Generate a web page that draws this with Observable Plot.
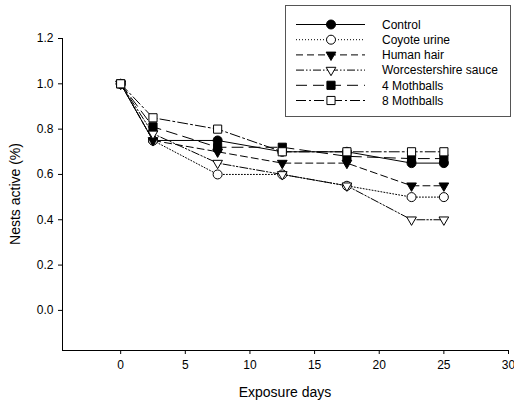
<!DOCTYPE html>
<html><head><meta charset="utf-8">
<script src="https://cdn.jsdelivr.net/npm/d3@7"></script>
<script src="https://cdn.jsdelivr.net/npm/@observablehq/plot@0.6"></script>
<style>body{margin:0;background:#fff;font-family:Arial,"Liberation Sans",sans-serif}</style>
</head><body><div id="chart"></div>
<script>
const days = [0, 2.5, 7.5, 12.5, 17.5, 22.5, 25];
const seriesNames = ["Control", "Coyote urine", "Human hair", "Worcestershire sauce", "4 Mothballs", "8 Mothballs"];
const control      = [1.0, 0.75, 0.75, 0.70, 0.70, 0.65, 0.65];
const coyoteUrine  = [1.0, 0.75, 0.60, 0.60, 0.55, 0.50, 0.50];
const humanHair    = [1.0, 0.75, 0.70, 0.65, 0.65, 0.55, 0.55];
const worcester    = [1.0, 0.78, 0.65, 0.60, 0.55, 0.40, 0.40];
const mothballs4   = [1.0, 0.81, 0.72, 0.72, 0.68, 0.67, 0.67];
const mothballs8   = [1.0, 0.85, 0.80, 0.70, 0.70, 0.70, 0.70];
const seriesValues = [control, coyoteUrine, humanHair, worcester, mothballs4, mothballs8];
const xTicks = [0, 5, 10, 15, 20, 25, 30];
const yTicks = [0.0, 0.2, 0.4, 0.6, 0.8, 1.0, 1.2];

const triDown = {draw(ctx, size) {
  const a = Math.sqrt(4 * size / Math.sqrt(3)), h = a * Math.sqrt(3) / 2;
  ctx.moveTo(0, 2 * h / 3); ctx.lineTo(-a / 2, -h / 3); ctx.lineTo(a / 2, -h / 3); ctx.closePath();
}};
const styles = [
  {dash: null, symbol: "circle", fill: "black", r: 4.5},
  {dash: "1,2", symbol: "circle", fill: "white", r: 4.5},
  {dash: "7,4", symbol: triDown, fill: "black", r: 3.6},
  {dash: "8,2,1.5,2,1.5,2", symbol: triDown, fill: "white", r: 3.6},
  {dash: "11,6", symbol: "square", fill: "black", r: 4.6},
  {dash: "10,3,2,3", symbol: "square", fill: "white", r: 4.6}
];

const rows = [];
seriesNames.forEach((name, i) => days.forEach((d, j) => rows.push({series: name, idx: i, day: d, value: seriesValues[i][j]})));

const marks = [
  Plot.ruleX([-4.5], {stroke: "black", strokeWidth: 1}),
  Plot.ruleY([-0.177], {stroke: "black", strokeWidth: 1}),
  Plot.axisX({ticks: xTicks, tickSize: 4, tickPadding: 6, fontSize: 12, label: null}),
  Plot.axisY({ticks: yTicks, tickSize: 4, tickPadding: 5, fontSize: 12, label: null, tickFormat: d3.format(".1f")})
];
seriesNames.forEach((name, i) => {
  const data = rows.filter(r => r.idx === i);
  const s = styles[i];
  marks.push(Plot.line(data, {x: "day", y: "value", stroke: "black", strokeWidth: 1, strokeDasharray: s.dash}));
});
seriesNames.forEach((name, i) => {
  const data = rows.filter(r => r.idx === i);
  const s = styles[i];
  marks.push(Plot.dot(data, {x: "day", y: "value", symbol: s.symbol, r: s.r, fill: s.fill, stroke: "black", strokeWidth: 1}));
});

const chart = Plot.plot({
  width: 514, height: 405,
  marginLeft: 62, marginRight: 6, marginTop: 38, marginBottom: 55,
  style: {fontFamily: "Arial, 'Liberation Sans', sans-serif", fontSize: "12px", color: "black", background: "white"},
  x: {domain: [-4.5, 30]},
  y: {domain: [-0.177, 1.2]},
  marks
});
document.getElementById("chart").appendChild(chart);

const svg = d3.select(chart);
svg.append("text").attr("x", 285).attr("y", 397).attr("text-anchor", "middle")
  .attr("font-size", 14).attr("fill", "black").text("Exposure days");
svg.append("text").attr("transform", "translate(20,194) rotate(-90)").attr("text-anchor", "middle")
  .attr("font-size", 14).attr("fill", "black").text("Nests active (%)");

// legend
const lg = svg.append("g");
lg.append("rect").attr("x", 285.5).attr("y", 5.5).attr("width", 225).attr("height", 111)
  .attr("fill", "white").attr("stroke", "#555").attr("stroke-width", 1);
seriesNames.forEach((name, i) => {
  const s = styles[i];
  const y = 24.5 + i * 15.2;
  lg.append("line").attr("x1", 296).attr("x2", 365).attr("y1", y).attr("y2", y)
    .attr("stroke", "black").attr("stroke-width", 1).attr("stroke-dasharray", s.dash);
  const sym = typeof s.symbol === "string" ? (s.symbol === "circle" ? d3.symbolCircle : d3.symbolSquare) : s.symbol;
  lg.append("path").attr("d", d3.symbol(sym, Math.PI * s.r * s.r)()).attr("transform", `translate(331,${y})`)
    .attr("fill", s.fill).attr("stroke", "black").attr("stroke-width", 1);
  lg.append("text").attr("x", 382).attr("y", y).attr("dy", "0.35em").attr("font-size", 12)
    .attr("text-anchor", "start").attr("fill", "black").text(name);
});
</script></body></html>
